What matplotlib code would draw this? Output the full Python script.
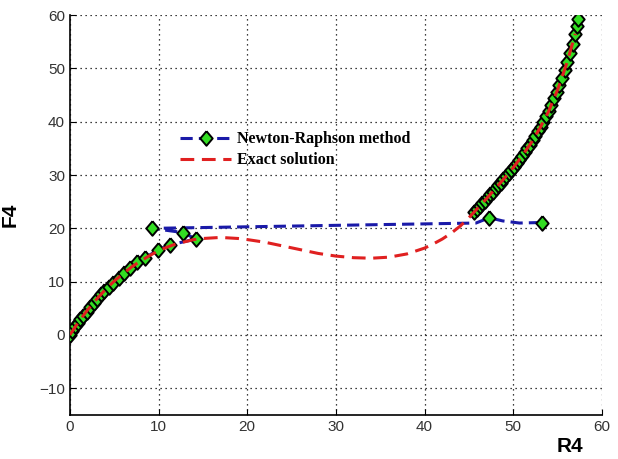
import numpy as np
import matplotlib
matplotlib.use("Agg")
import matplotlib.pyplot as plt

# Exact solution (red dashed curve)
exact_r = [0, 1, 2, 3, 4, 5, 6, 7, 8, 9, 10, 11, 12, 13, 14, 15, 16, 17, 18, 19, 20,
           22, 24, 26, 28, 30, 32, 34, 36, 38, 40, 41, 42, 43, 44, 45, 46, 47, 48, 49,
           50, 51, 52, 53, 54, 55, 56, 57]
exact_f = [0, 2.5, 4.7, 6.7, 8.5, 10.1, 11.5, 12.8, 13.9, 14.9, 15.8, 16.5, 17.1, 17.5,
           17.9, 18.1, 18.2, 18.3, 18.2, 18.1, 17.9, 17.4, 16.7, 16.0, 15.3, 14.8, 14.5,
           14.4, 14.6, 15.2, 16.3, 17.1, 18.0, 19.1, 20.4, 22.0, 23.8, 25.6, 27.5, 29.4,
           31.4, 33.6, 36.0, 38.8, 42.0, 46.0, 50.8, 56.5]

# Newton-Raphson iterates, lower branch + stray points (NaN = line break)
nr_r = [0, 0.3, 0.6, 0.9, 1.2, 1.5, 1.9, 2.3, 2.7, 3.1, 3.5, 3.9, 4.4, 4.9, 5.5, 6.1,
        6.8, 7.6, 8.5, 9.9, 11.3, 14.2, 12.8, 9.3, 45.8, 47.3, 48.8, 50.7, 53.2, np.nan,
        45.6, 45.9, 46.2, 46.5, 46.8, 47.1, 47.4, 47.7, 48.0, 48.3, 48.6, 48.9, 49.2,
        49.5, 49.8, 50.1, 50.4, 50.7, 51.0, 51.3, 51.6, 51.9, 52.2, 52.5, 52.8, 53.1,
        53.4, 53.7, 54.0, 54.3, 54.6, 54.9, 55.2, 55.5, 55.8, 56.1, 56.4, 56.7, 57.0,
        57.2, 57.3]
nr_f = [0, 0.8, 1.6, 2.3, 3.0, 3.6, 4.4, 5.2, 6.0, 6.8, 7.6, 8.2, 9.0, 9.8, 10.7, 11.6,
        12.6, 13.6, 14.5, 15.9, 16.9, 18.0, 19.2, 20.0, 21.0, 22.0, 21.4, 21.0, 21.1, np.nan,
        23.1, 23.6, 24.2, 24.7, 25.2, 25.8, 26.4, 26.9, 27.5, 28.1, 28.6, 29.2, 29.8,
        30.4, 31.0, 31.6, 32.3, 32.9, 33.6, 34.3, 35.0, 35.7, 36.5, 37.4, 38.2, 39.1,
        40.0, 41.0, 42.0, 43.2, 44.4, 45.6, 46.9, 48.3, 49.8, 51.3, 52.9, 54.6, 56.5,
        58.0, 59.2]
# connector points without a marker
no_marker = [24, 26, 27]
marker_idx = [i for i in range(len(nr_r)) if i not in no_marker and not np.isnan(nr_r[i])]

# MATLAB-like diamond
diamond = [(0, 1), (0.85, 0), (0, -1), (-0.85, 0), (0, 1)]

fig = plt.figure(figsize=(6.18, 4.59), dpi=100)
ax = fig.add_axes([0.113, 0.096, 0.861, 0.871])

ax.plot(nr_r, nr_f, '--', color='#1a1aa8', lw=2.2, dashes=(4, 2),
        marker=diamond, markersize=10.5, markerfacecolor='#33dd22', markeredgecolor='black',
        markeredgewidth=1.4, markevery=marker_idx, label='Newton-Raphson method', zorder=3)
ax.plot(exact_r, exact_f, '--', color='#e02020', lw=2.2, dashes=(4.5, 2.5),
        label='Exact solution', zorder=4)

ax.set_xlim(0, 60)
ax.set_ylim(-15, 60)
ax.set_xticks(range(0, 61, 10))
ax.set_yticks(range(-10, 61, 10))
ax.grid(True, linestyle=(0, (1, 3)), color='black', lw=0.9)
ax.spines['top'].set_visible(False)
ax.spines['right'].set_visible(False)
ax.spines['left'].set_linewidth(1.2)
ax.spines['bottom'].set_linewidth(1.2)
ax.tick_params(direction='in', length=4, labelsize=11, colors='black', labelcolor='#333333')
for t in ax.get_xticklabels() + ax.get_yticklabels():
    t.set_family('Liberation Sans')

ax.set_ylabel('F4', fontsize=15, fontweight='bold', family='Liberation Sans', labelpad=14)
ax.set_xlabel('R4', fontsize=15, fontweight='bold', family='Liberation Sans')
ax.xaxis.set_label_coords(0.94, -0.055)

ax.legend(loc='upper left', bbox_to_anchor=(0.18, 0.745), frameon=False,
          handlelength=3.2, handletextpad=0.4, labelspacing=0.3,
          prop={'family': 'Liberation Serif', 'weight': 'bold', 'size': 11.5})

fig.savefig('out.png', dpi=100)
